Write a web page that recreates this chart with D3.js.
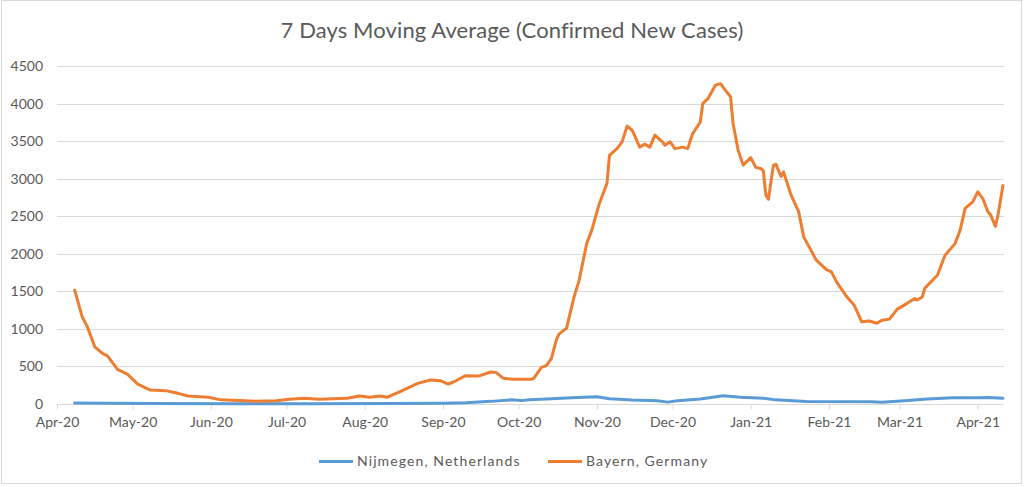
<!DOCTYPE html>
<html>
<head>
<meta charset="utf-8">
<script src="https://cdn.jsdelivr.net/npm/d3@7"></script>
<style>
  html, body { margin: 0; padding: 0; background: #fff; }
  svg { display: block; }
  text { font-family: Lato, "Open Sans", sans-serif; fill: #595959; }
</style>
</head>
<body>
<svg id="chart" width="1024" height="487"></svg>
<script>
const title = "7 Days Moving Average (Confirmed New Cases)";
const seriesNames = ["Nijmegen, Netherlands", "Bayern, Germany"];
const seriesColors = ["#5B9BD5", "#ED7D31"];

const yTicks = [0, 500, 1000, 1500, 2000, 2500, 3000, 3500, 4000, 4500];
const xTicks = ["2020-04-01","2020-05-01","2020-06-01","2020-07-01","2020-08-01","2020-09-01",
                "2020-10-01","2020-11-01","2020-12-01","2021-01-01","2021-02-01","2021-03-01","2021-04-01"];

const bayernDates = ["2020-04-08","2020-04-11","2020-04-13","2020-04-16","2020-04-19","2020-04-21","2020-04-25","2020-04-29",
  "2020-05-03","2020-05-08","2020-05-14","2020-05-19","2020-05-23","2020-05-31","2020-06-05","2020-06-12","2020-06-19",
  "2020-06-27","2020-07-02","2020-07-08","2020-07-14","2020-07-25","2020-07-30","2020-08-03","2020-08-07","2020-08-10",
  "2020-08-15","2020-08-22","2020-08-27","2020-08-31","2020-09-03","2020-09-05","2020-09-10","2020-09-15","2020-09-20",
  "2020-09-22","2020-09-25","2020-09-29","2020-10-06","2020-10-07","2020-10-10","2020-10-12","2020-10-14","2020-10-16",
  "2020-10-17","2020-10-20","2020-10-23","2020-10-25","2020-10-28","2020-10-30","2020-11-02","2020-11-05","2020-11-06",
  "2020-11-09","2020-11-11","2020-11-13","2020-11-15","2020-11-18","2020-11-20","2020-11-22","2020-11-24","2020-11-27",
  "2020-11-28","2020-11-30","2020-12-02","2020-12-05","2020-12-07","2020-12-09","2020-12-12","2020-12-13","2020-12-15",
  "2020-12-18","2020-12-20","2020-12-22","2020-12-24","2020-12-25","2020-12-27","2020-12-29","2021-01-01","2021-01-03",
  "2021-01-05","2021-01-06","2021-01-07","2021-01-08","2021-01-10","2021-01-11","2021-01-13","2021-01-14","2021-01-17",
  "2021-01-20","2021-01-22","2021-01-27","2021-01-31","2021-02-02","2021-02-04","2021-02-08","2021-02-11","2021-02-14",
  "2021-02-17","2021-02-20","2021-02-22","2021-02-25","2021-02-28","2021-03-04","2021-03-07","2021-03-08","2021-03-10",
  "2021-03-11","2021-03-16","2021-03-19","2021-03-23","2021-03-25","2021-03-27","2021-03-30","2021-04-01","2021-04-03",
  "2021-04-05","2021-04-06","2021-04-08","2021-04-09","2021-04-11"];
const bayernValues = [1515,1160,1030,760,675,640,460,395,
  265,185,178,142,106,89,55,45,36,
  44,62,76,64,76,106,90,106,90,
  165,275,320,310,266,290,377,372,426,
  421,342,328,328,342,488,510,608,860,
  930,1010,1430,1650,2140,2315,2670,2935,3310,
  3400,3490,3700,3645,3420,3460,3420,3580,3490,
  3445,3490,3400,3420,3400,3600,3755,4000,4065,
  4245,4265,4175,4090,3735,3380,3180,3280,3150,
  3135,3105,2780,2725,3180,3190,3030,3090,2780,
  2560,2225,1915,1790,1760,1625,1430,1315,1095,
  1105,1075,1115,1130,1260,1340,1405,1385,1425,
  1540,1715,1980,2135,2315,2605,2690,2825,2735,
  2560,2525,2365,2515,2910];

const nijmegenDates = ["2020-04-08","2020-04-20","2020-05-10","2020-06-10","2020-07-10","2020-08-10","2020-09-01",
  "2020-09-10","2020-09-20","2020-09-28","2020-10-02","2020-10-05","2020-10-12","2020-10-22","2020-11-01","2020-11-06",
  "2020-11-15","2020-11-25","2020-11-29","2020-12-03","2020-12-12","2020-12-21","2020-12-28","2021-01-06","2021-01-11",
  "2021-01-23","2021-02-18","2021-02-22","2021-03-03","2021-03-12","2021-03-22","2021-04-01","2021-04-05","2021-04-11"];
const nijmegenValues = [12,10,5,3,3,5,10,
  18,35,55,45,58,66,84,97,70,
  53,44,25,44,66,110,89,76,55,
  32,30,22,44,66,84,82,88,76];

const parse = d3.timeParse("%Y-%m-%d");
const fmt = d3.timeFormat("%b-%y");

const svg = d3.select("#chart");
const W = 1024, H = 487;
const plot = { left: 57, right: 1004, top: 66, bottom: 404 };

// chart border
svg.append("rect").attr("x", 1.5).attr("y", 0.5).attr("width", W - 4).attr("height", H - 4)
  .attr("fill", "#fff").attr("stroke", "#d9d9d9").attr("stroke-width", 1);

const x = d3.scaleTime()
  .domain([parse("2020-04-01"), parse("2021-04-11")])
  .range([plot.left, plot.right - 1]);
const y = d3.scaleLinear().domain([0, 4500]).range([plot.bottom, plot.top]);

// gridlines
svg.append("g").selectAll("line").data(yTicks.filter(d => d > 0)).join("line")
  .attr("x1", plot.left).attr("x2", plot.right)
  .attr("y1", d => Math.round(y(d)) + 0.5).attr("y2", d => Math.round(y(d)) + 0.5)
  .attr("stroke", "#d9d9d9").attr("stroke-width", 1);

// y axis labels
const yAxis = d3.axisLeft(y).tickValues(yTicks).tickFormat(d3.format("d")).tickSize(0).tickPadding(14);
const gy = svg.append("g").attr("transform", `translate(${plot.left},0)`).call(yAxis);
gy.select(".domain").remove();
gy.selectAll("text").attr("font-size", 14).style("font-family", "Lato, sans-serif").attr("fill", "#595959");

// x axis
const xAxis = d3.axisBottom(x).tickValues(xTicks.map(parse)).tickFormat(fmt).tickSize(5).tickSizeOuter(0).tickPadding(8);
const gx = svg.append("g").attr("transform", `translate(0,${Math.round(plot.bottom) + 0.5})`).call(xAxis);
gx.select(".domain").attr("stroke", "#d9d9d9").attr("d", `M${plot.left},0H${plot.right}`);
gx.selectAll(".tick line").attr("stroke", "#d9d9d9");
gx.selectAll("text").attr("font-size", 14).style("font-family", "Lato, sans-serif").attr("fill", "#595959");

// lines
const line = d3.line().x(d => x(d[0])).y(d => y(d[1]));
const nijData = nijmegenDates.map((d, i) => [parse(d), nijmegenValues[i]]);
const bayData = bayernDates.map((d, i) => [parse(d), bayernValues[i]]);

svg.append("path").datum(nijData).attr("d", line)
  .attr("fill", "none").attr("stroke", seriesColors[0]).attr("stroke-width", 3)
  .attr("stroke-linejoin", "round").attr("stroke-linecap", "round");
svg.append("path").datum(bayData).attr("d", line)
  .attr("fill", "none").attr("stroke", seriesColors[1]).attr("stroke-width", 3)
  .attr("stroke-linejoin", "round").attr("stroke-linecap", "round");

// title
svg.append("text").attr("x", 512).attr("y", 38).attr("text-anchor", "middle")
  .attr("font-size", 22).attr("letter-spacing", 0.1).text(title);

// legend
const legendItems = [
  { name: seriesNames[0], color: seriesColors[0], x: 319 },
  { name: seriesNames[1], color: seriesColors[1], x: 548 }
];
const lg = svg.append("g");
legendItems.forEach(it => {
  lg.append("line").attr("x1", it.x).attr("x2", it.x + 34).attr("y1", 461.5).attr("y2", 461.5)
    .attr("stroke", it.color).attr("stroke-width", 3);
  lg.append("text").attr("x", it.x + 38).attr("y", 462).attr("dominant-baseline", "middle")
    .attr("font-size", 14).attr("letter-spacing", 1.1).text(it.name);
});
</script>
</body>
</html>
